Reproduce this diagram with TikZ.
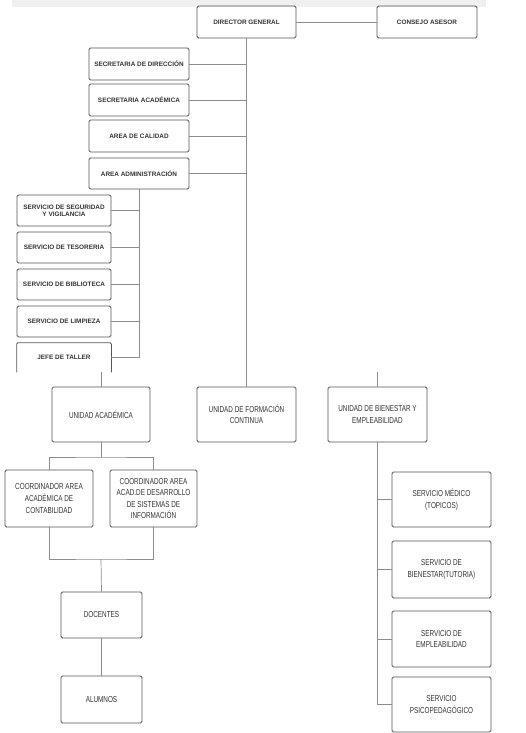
\documentclass[tikz,border=0pt]{standalone}
\usepackage{fontspec}
\setmainfont{Liberation Sans}
\newfontfamily\narrowfont[FakeStretch=0.74]{Liberation Sans}
\definecolor{boxc}{HTML}{555555}
\definecolor{linec}{HTML}{8C8C8C}
\definecolor{txtc}{HTML}{333333}
\definecolor{bandc}{HTML}{F0F0F0}
\tikzset{
  topbox/.style={draw=boxc, rounded corners=1.5pt, line width=0.75pt, text=txtc,
    font=\bfseries\fontsize{6.4}{7}\selectfont, align=center, inner sep=0pt},
  lowbox/.style={draw=boxc, rounded corners=1.5pt, line width=0.75pt, text=txtc,
    font=\narrowfont\fontsize{8.6}{11.6}\selectfont, align=center, inner sep=0pt},
  conn/.style={draw=linec, line width=0.7pt},
  openbox/.style={draw=boxc, line width=0.75pt, rounded corners=1.5pt}
}
\begin{document}
\begin{tikzpicture}[x=1pt,y=-1pt]
\useasboundingbox (0,0) rectangle (526,733);
\fill[bandc] (12,0.5) rectangle (486,7);

% top level
\node[topbox, minimum width=99pt, minimum height=32pt] (dg) at (246.5,22) {DIRECTOR GENERAL};
\node[topbox, minimum width=100pt, minimum height=32pt] (ca) at (427,22) {CONSEJO ASESOR};

% staff column
\node[topbox, minimum width=100pt, minimum height=32pt] (sd) at (139,64) {SECRETARIA DE DIRECCIÓN};
\node[topbox, minimum width=100pt, minimum height=32pt] (sa) at (139,100) {SECRETARIA ACADÉMICA};
\node[topbox, minimum width=100pt, minimum height=32pt] (ac) at (139,136) {AREA DE CALIDAD};
\node[topbox, minimum width=100pt, minimum height=31pt] (aa) at (139,173.5) {AREA ADMINISTRACIÓN};

% services under administration
\node[topbox, minimum width=94pt, minimum height=31pt] (ss) at (64,210.5) {SERVICIO DE SEGURIDAD\\Y VIGILANCIA};
\node[topbox, minimum width=94pt, minimum height=31pt] (st) at (64,247.5) {SERVICIO DE TESORERIA};
\node[topbox, minimum width=94pt, minimum height=31pt] (sb) at (64,284.5) {SERVICIO DE BIBLIOTECA};
\node[topbox, minimum width=94pt, minimum height=31pt] (sl) at (64,321.5) {SERVICIO DE LIMPIEZA};
\node[topbox, draw=none, minimum width=94pt, minimum height=29pt] (jt) at (64,357.5) {JEFE DE TALLER};
\draw[openbox] (jt.south west) -- (jt.north west) -- (jt.north east) -- (jt.south east);

% units
\node[lowbox, minimum width=98pt, minimum height=55pt] (ua) at (101,414.5) {UNIDAD ACADÉMICA};
\node[lowbox, minimum width=99pt, minimum height=55pt] (uf) at (246.5,414.5) {UNIDAD DE FORMACIÓN\\CONTINUA};
\node[lowbox, minimum width=99pt, minimum height=55pt] (ub) at (377.5,414.5) {UNIDAD DE BIENESTAR Y\\EMPLEABILIDAD};

% academic branch
\node[lowbox, minimum width=88pt, minimum height=57pt] (c1) at (49,498.5) {COORDINADOR AREA\\ACADÉMICA DE\\CONTABILIDAD};
\node[lowbox, minimum width=87pt, minimum height=57pt] (c2) at (153.5,498.5) {COORDINADOR AREA\\ACAD.DE DESARROLLO\\DE SISTEMAS DE\\INFORMACIÓN};
\node[lowbox, minimum width=81pt, minimum height=46pt] (doc) at (101.5,615) {DOCENTES};
\node[lowbox, minimum width=81pt, minimum height=47pt] (al) at (101.5,699.5) {ALUMNOS};

% welfare branch
\node[lowbox, minimum width=99pt, minimum height=55pt] (sm) at (441.5,499.5) {SERVICIO MÉDICO\\(TOPICOS)};
\node[lowbox, minimum width=99pt, minimum height=57pt] (sbt) at (441.5,569.5) {SERVICIO DE\\BIENESTAR(TUTORIA)};
\node[lowbox, minimum width=99pt, minimum height=56pt] (se) at (441.5,639) {SERVICIO DE\\EMPLEABILIDAD};
\node[lowbox, minimum width=99pt, minimum height=55pt] (sp) at (441.5,704.5) {SERVICIO\\PSICOPEDAGÓGICO};

% coordinates for free ends and junctions
\coordinate (uaTop) at (101,372);
\coordinate (ubTop) at (377.5,372);
\coordinate (split1) at (101,457);
\coordinate (join1) at (101,559);

% connectors: top
\draw[conn] (dg.east) -- (ca.west);
\draw[conn] (dg.south) -- (uf.north);
\foreach \n in {sd,sa,ac,aa} \draw[conn] (\n.east) -- (\n.east -| dg.south);

% administration bus
\draw[conn] (aa.south) |- (jt.east);
\foreach \n in {ss,st,sb,sl} \draw[conn] (\n.east) -- (\n.east -| aa.south);

% unit stubs
\draw[conn] (uaTop) -- (ua.north);
\draw[conn] (ubTop) -- (ub.north);

% academic
\draw[conn] (ua.south) -- (split1);
\draw[conn] (c1.north) |- (split1) -| (c2.north);
\draw[conn] (c1.south) |- (join1) -| (c2.south);
\draw[conn] (join1) -- (doc.north);
\draw[conn] (doc.south) -- (al.north);

% welfare
\draw[conn] (ub.south) |- (sp.west);
\foreach \n in {sm,sbt,se} \draw[conn] (\n.west) -- (\n.west -| ub.south);
\end{tikzpicture}
\end{document}
